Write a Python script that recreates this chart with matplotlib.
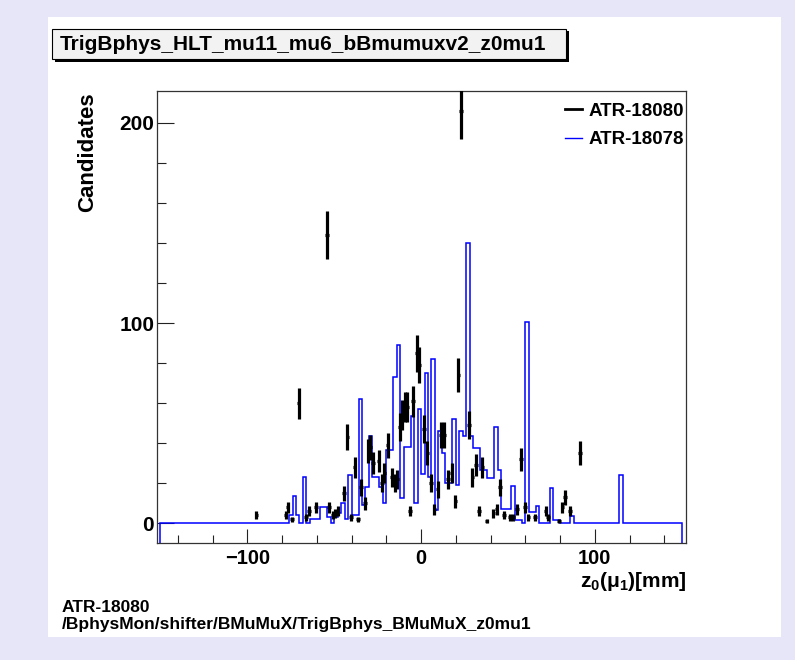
import numpy as np
import matplotlib
matplotlib.use('Agg')
import matplotlib.pyplot as plt
from matplotlib.lines import Line2D
from matplotlib.patches import Rectangle

# histogram binning: 2 mm bins over [-150, 150]
bin_lo, bin_hi, n_bins = -150, 150, 150

# reference run (ATR-18078), left edge of each filled bin and its content
blue_left = [-76, -74, -72, -68, -64, -62, -60, -58, -56, -54,
             -50, -48, -46, -44, -42, -40, -38, -36, -34, -32,
             -30, -28, -26, -24, -22, -20, -18, -16, -14, -12,
             -10, -8, -6, -4, -2, 0, 2, 4, 6, 8,
             10, 12, 14, 16, 18, 20, 22, 24, 26, 28,
             30, 32, 34, 36, 38, 40, 42, 44, 46, 48,
             50, 52, 54, 56, 60, 62, 64, 66, 74, 76,
             78, 86, 114]
blue_counts = [4, 13.5, 4, 23, 2, 2, 2, 8, 8, 3,
               3, 5, 10, 2, 24, 4, 4, 62, 9, 18,
               43.5, 23, 23, 18, 10, 36.5, 36.5, 73, 89, 12.5,
               38, 38, 53.5, 10, 57, 24.5, 75, 23, 82, 6.5,
               46, 35, 20, 20, 52, 19, 46, 43.5, 140, 43.5,
               37.5, 37.5, 26.5, 26.5, 22.5, 22.5, 48, 26.5, 7, 7,
               7, 18.5, 1.5, 1.5, 100.7, 5.7, 5.7, 8.5, 17.5, 1.5,
               1.5, 3.5, 24]

# current run (ATR-18080) points
data_x = [-94.8, -78, -76.8, -74.3, -70.5, -66.3, -64.4, -60.5, -54.2, -52.9,
          -50.8, -49.4, -48.1, -44.3, -42.4, -40.2, -38.3, -36.4, -34.5, -32.2,
          -30.3, -29.3, -27.8, -24.5, -22.6, -21.1, -19.2, -16.8, -15, -13.6,
          -12.4, -10.7, -9.2, -8.2, -6.3, -4.6, -2.5, -1.0, 1.8, 3.6,
          5.6, 7.6, 9.5, 11.4, 13.2, 15.6, 17.6, 19.7, 21.5, 23,
          27.6, 29.6, 31.5, 33.4, 35.3, 37.7, 41.6, 43.5, 45.4, 47.7,
          51.1, 53, 55.3, 57.5, 59.8, 61.7, 65.5, 71.7, 73.2, 79.5,
          81.4, 82.8, 85.6, 91.4]
data_y = [4, 4, 8, 2, 60, 3, 6, 8, 144, 8,
          4, 5, 6, 15, 43, 3, 28, 2, 18, 10,
          36, 38, 30, 31, 20, 25, 39, 23, 20, 22,
          48, 54, 58, 58, 6, 61, 85, 79, 47, 35,
          20, 7, 17, 44, 44, 22, 25, 11, 74, 206,
          49, 23, 29, 6, 28, 1, 5, 7, 18, 4,
          3, 3, 7, 32, 8, 3, 3, 6, 3, 1,
          8, 13, 6, 35]

title = 'TrigBphys_HLT_mu11_mu6_bBmumuxv2_z0mu1'
legend_labels = ['ATR-18080', 'ATR-18078']
footer = ['ATR-18080', '/BphysMon/shifter/BMuMuX/TrigBphys_BMuMuX_z0mu1']

W, H = 795, 660
plt.rcParams['font.family'] = ['Liberation Sans', 'DejaVu Sans']
plt.rcParams['font.weight'] = 'bold'
plt.rcParams['mathtext.fontset'] = 'custom'
plt.rcParams['mathtext.rm'] = 'Liberation Sans:bold'
plt.rcParams['mathtext.it'] = 'Liberation Sans:bold'
plt.rcParams['mathtext.bf'] = 'Liberation Sans:bold'
plt.rcParams['mathtext.default'] = 'rm'


def fx(px):
    return px / W


def fy(py):
    return 1 - py / H


fig = plt.figure(figsize=(W / 100, H / 100), dpi=100)
fig.patch.set_facecolor('#e6e6f8')
fig.patches.append(Rectangle((fx(48), fy(637)), fx(781) - fx(48), fy(17) - fy(637),
                             transform=fig.transFigure, facecolor='white', edgecolor='none', zorder=0))

# title pave with shadow
fig.patches.append(Rectangle((fx(55), fy(62)), fx(569) - fx(55), fy(31) - fy(62),
                             transform=fig.transFigure, facecolor='black', edgecolor='none', zorder=1))
fig.patches.append(Rectangle((fx(52), fy(59)), fx(566) - fx(52), fy(29) - fy(59),
                             transform=fig.transFigure, facecolor='#f2f2f2', edgecolor='black',
                             linewidth=0.8, zorder=2))
fig.text(fx(303), fy(45), title, ha='center', va='center', fontsize=15, fontweight='bold', zorder=3)

ax = fig.add_axes([fx(157), fy(543), fx(686) - fx(157), fy(91) - fy(543)])
ax.set_zorder(2)
ymin, ymax = -9.8, 215.8
ax.set_xlim(-152, 152.5)
ax.set_ylim(ymin, ymax)

edges = np.linspace(bin_lo, bin_hi, n_bins + 1)
blue = np.zeros(n_bins)
for lo, c in zip(blue_left, blue_counts):
    blue[int(round((lo - bin_lo) / 2))] = c
ax.stairs(blue, edges, baseline=ymin, color='#0000ff', linewidth=1.1, zorder=2)

dy = np.sqrt(np.array(data_y, dtype=float))
ax.errorbar(data_x, data_y, yerr=dy, xerr=1.0, fmt='none', ecolor='black',
            elinewidth=2.3, capsize=0, zorder=3)

ax.set_xticks([-100, 0, 100])
ax.set_xticks(np.arange(-140, 141, 20), minor=True)
ax.set_yticks([0, 100, 200])
ax.set_yticks(np.arange(0, 201, 20), minor=True)
ax.tick_params(axis='both', which='both', direction='in', width=0.8, colors='#222222',
               labelcolor='black', labelsize=15)
ax.tick_params(axis='x', which='major', length=10, pad=4, labelsize=14.5)
ax.tick_params(axis='x', which='minor', length=6)
ax.tick_params(axis='y', which='major', length=12, pad=2)
ax.tick_params(axis='y', which='minor', length=6.5)
for lab in ax.get_xticklabels() + ax.get_yticklabels():
    lab.set_fontweight('bold')
for s in ax.spines.values():
    s.set_color('#333333')
    s.set_linewidth(0.9)

handles = [Line2D([], [], color='black', lw=2.0), Line2D([], [], color='#0000ff', lw=1.0)]
ax.legend(handles, legend_labels, loc='upper right', bbox_to_anchor=(1.0, 0.978),
          frameon=False, fontsize=13.5, handlelength=0.9, handletextpad=0.35,
          labelspacing=0.6, borderpad=0.1, borderaxespad=0)

fig.text(fx(88), fy(92), 'Candidates', rotation=90, ha='center', va='top',
         fontsize=16, fontweight='bold')
fig.text(fx(687), fy(587), r'z$_0$($\mu_1$)[mm]', ha='right', va='baseline',
         fontsize=15, fontweight='bold')

fig.text(fx(62), fy(607), footer[0], ha='left', va='center', fontsize=12.5, fontweight='bold')
fig.text(fx(62), fy(625), footer[1], ha='left', va='center', fontsize=12.5, fontweight='bold')

fig.savefig('out.png', dpi=100, facecolor=fig.get_facecolor())
